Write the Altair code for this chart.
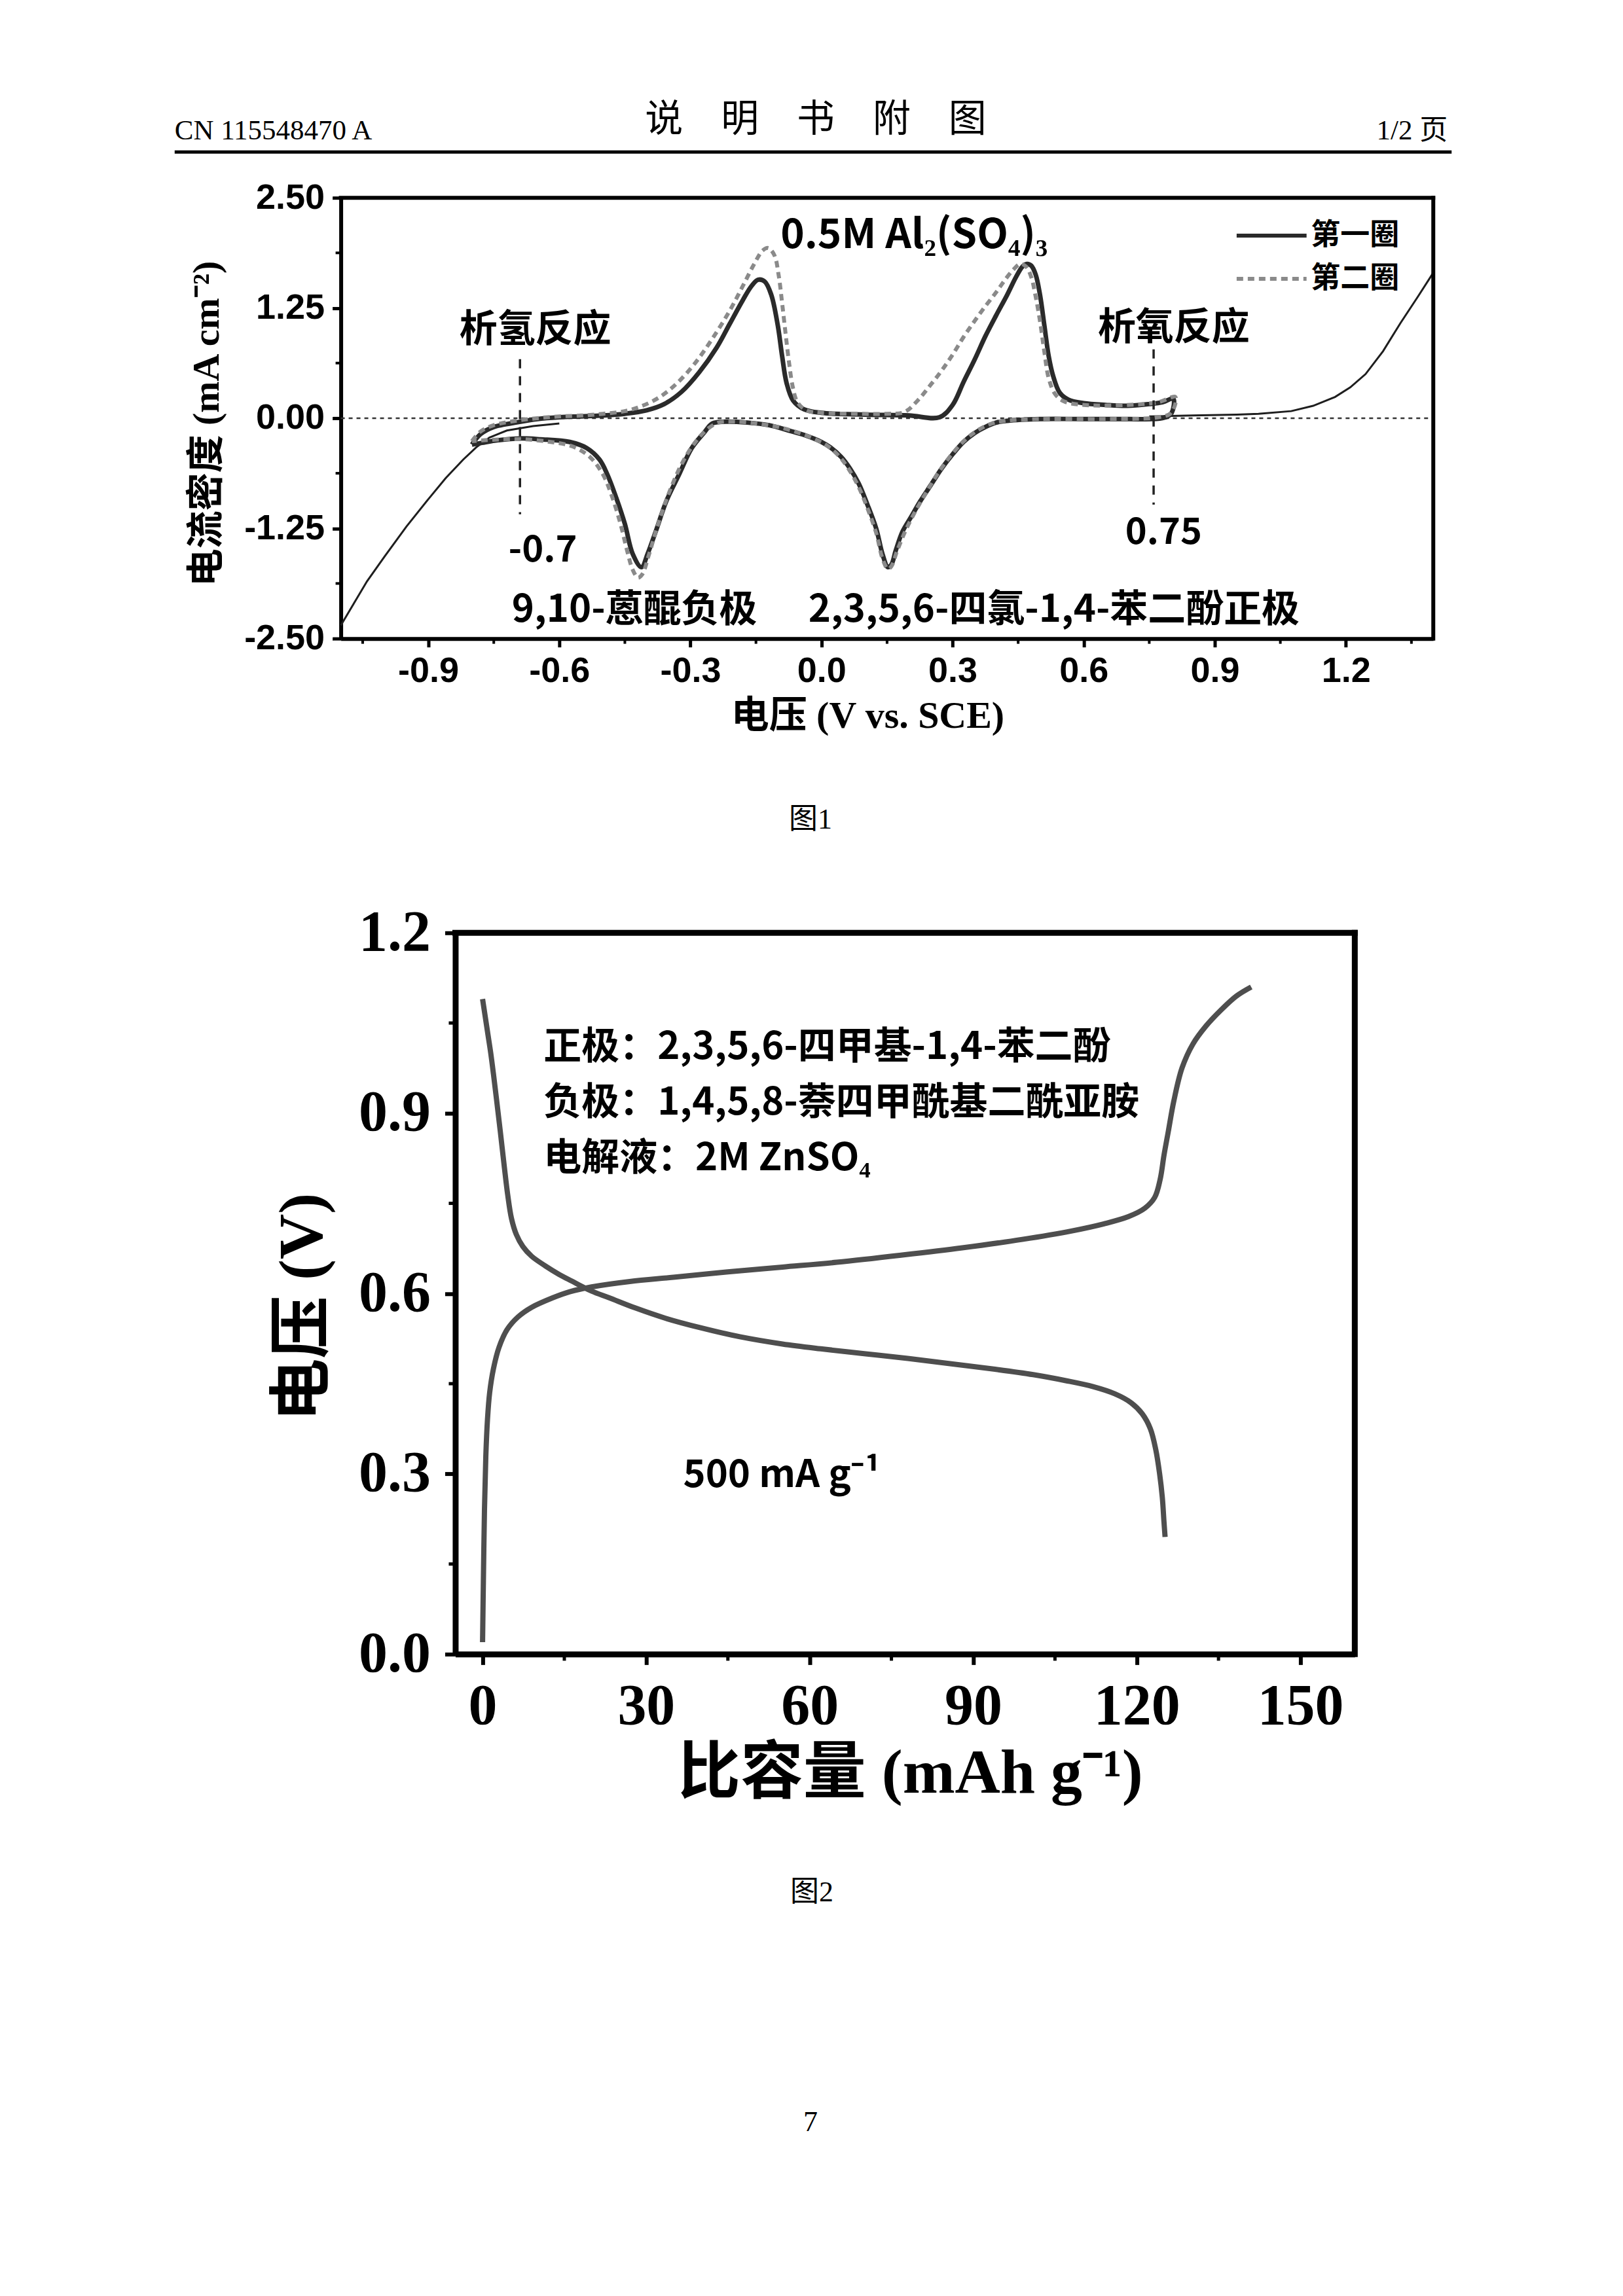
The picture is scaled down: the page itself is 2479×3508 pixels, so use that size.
import altair as alt
import pandas as pd

# ------------------------------------------------------------------ data
# Figure 1: cyclic voltammograms, potential (V vs. SCE) / current density (mA cm-2)
cv1_x = [-0.80, -0.78, -0.75, -0.70, -0.65, -0.60, -0.55, -0.50, -0.45, -0.40,
         -0.36, -0.32, -0.28, -0.24, -0.21, -0.18, -0.16, -0.145, -0.13, -0.115,
         -0.10, -0.09, -0.08, -0.065, -0.04, 0.00, 0.10, 0.20, 0.27, 0.30,
         0.325, 0.35, 0.375, 0.40, 0.425, 0.445, 0.46, 0.47, 0.48, 0.49,
         0.50, 0.51, 0.52, 0.53, 0.545, 0.565, 0.60, 0.65, 0.70, 0.75,
         0.78, 0.805,
         0.80, 0.78, 0.70, 0.60, 0.50, 0.425, 0.40, 0.375, 0.35, 0.325,
         0.30, 0.275, 0.25, 0.225, 0.205, 0.185, 0.17, 0.16, 0.152, 0.14,
         0.125, 0.105, 0.085, 0.065, 0.045, 0.02, 0.00, -0.04, -0.075, -0.12,
         -0.17, -0.22, -0.25, -0.268, -0.297, -0.326, -0.355, -0.379, -0.398, -0.412,
         -0.432, -0.45, -0.47, -0.49, -0.508, -0.537, -0.576, -0.643, -0.69, -0.74,
         -0.777, -0.80]
cv1_y = [-0.30, -0.18, -0.10, -0.05, -0.01, 0.01, 0.02, 0.03, 0.05, 0.09,
         0.16, 0.30, 0.52, 0.80, 1.07, 1.34, 1.50, 1.57, 1.55, 1.40,
         1.05, 0.70, 0.40, 0.20, 0.10, 0.06, 0.04, 0.03, 0.01, 0.15,
         0.41, 0.66, 0.93, 1.17, 1.40, 1.60, 1.72, 1.75, 1.73, 1.63,
         1.40, 1.05, 0.70, 0.48, 0.29, 0.21, 0.17, 0.15, 0.14, 0.16,
         0.18, 0.22,
         0.05, 0.00, -0.01, -0.01, -0.01, -0.03, -0.05, -0.10, -0.17, -0.27,
         -0.41, -0.57, -0.76, -0.95, -1.12, -1.29, -1.50, -1.66, -1.69, -1.55,
         -1.25, -0.98, -0.74, -0.57, -0.44, -0.33, -0.27, -0.19, -0.14, -0.08,
         -0.05, -0.04, -0.06, -0.16, -0.34, -0.64, -0.94, -1.28, -1.54, -1.69,
         -1.54, -1.20, -0.90, -0.64, -0.47, -0.34, -0.27, -0.24, -0.23, -0.25,
         -0.28, -0.30]

cv2_x = [-0.80, -0.78, -0.75, -0.70, -0.65, -0.60, -0.55, -0.50, -0.45, -0.41,
         -0.37, -0.33, -0.29, -0.25, -0.21, -0.18, -0.155, -0.135, -0.122, -0.108,
         -0.098, -0.09, -0.082, -0.074, -0.066, -0.055, -0.035, 0.00, 0.08, 0.15,
         0.19, 0.22, 0.25, 0.275, 0.30, 0.325, 0.35, 0.375, 0.40, 0.42,
         0.44, 0.455, 0.468, 0.48, 0.49, 0.50, 0.51, 0.52, 0.535, 0.555,
         0.60, 0.70, 0.77, 0.81,
         0.80, 0.77, 0.65, 0.50, 0.42, 0.39, 0.36, 0.33, 0.30, 0.27,
         0.24, 0.21, 0.19, 0.172, 0.16, 0.152, 0.14, 0.125, 0.105, 0.085,
         0.06, 0.04, 0.015, -0.01, -0.05, -0.10, -0.15, -0.20, -0.235, -0.26,
         -0.29, -0.32, -0.35, -0.375, -0.395, -0.41, -0.42, -0.432, -0.445, -0.46,
         -0.48, -0.50, -0.53, -0.57, -0.62, -0.68, -0.73, -0.77, -0.80]
cv2_y = [-0.26, -0.15, -0.08, -0.03, 0.00, 0.02, 0.03, 0.05, 0.08, 0.14,
         0.24, 0.40, 0.62, 0.90, 1.22, 1.50, 1.74, 1.90, 1.93, 1.85,
         1.62, 1.30, 0.95, 0.62, 0.36, 0.18, 0.09, 0.06, 0.05, 0.05,
         0.07, 0.20, 0.38, 0.54, 0.72, 0.92, 1.10, 1.27, 1.43, 1.57,
         1.69, 1.75, 1.72, 1.60, 1.38, 1.10, 0.75, 0.45, 0.27, 0.19,
         0.15, 0.15, 0.18, 0.24,
         0.06, 0.01, -0.01, -0.01, -0.03, -0.06, -0.13, -0.24, -0.40, -0.60,
         -0.84, -1.10, -1.30, -1.52, -1.68, -1.71, -1.60, -1.30, -1.02, -0.78,
         -0.56, -0.43, -0.32, -0.25, -0.17, -0.10, -0.06, -0.04, -0.05, -0.12,
         -0.28, -0.52, -0.86, -1.22, -1.55, -1.77, -1.81, -1.72, -1.50, -1.20,
         -0.88, -0.64, -0.44, -0.32, -0.27, -0.24, -0.24, -0.25, -0.26]

blank_left_x = [-1.10, -1.07, -1.04, -1.00, -0.95, -0.90, -0.86, -0.82, -0.79, -0.76, -0.72, -0.66, -0.60]
blank_left_y = [-2.35, -2.10, -1.85, -1.57, -1.23, -0.92, -0.68, -0.47, -0.33, -0.22, -0.14, -0.09, -0.06]
blank_right_x = [0.75, 0.85, 0.95, 1.00, 1.075, 1.125, 1.175, 1.21, 1.245, 1.285, 1.325, 1.365, 1.40]
blank_right_y = [0.02, 0.03, 0.04, 0.05, 0.08, 0.14, 0.24, 0.35, 0.50, 0.76, 1.08, 1.38, 1.65]

x1_ticks = [-0.9, -0.6, -0.3, 0.0, 0.3, 0.6, 0.9, 1.2]
x1_minor = [-1.05, -0.75, -0.45, -0.15, 0.15, 0.45, 0.75, 1.05, 1.35]
y1_ticks = [-2.5, -1.25, 0.0, 1.25, 2.5]
y1_minor = [-1.875, -0.625, 0.625, 1.875]

legend_labels = ["第一圈", "第二圈"]

# Figure 2: galvanostatic charge / discharge, capacity (mAh g-1) / voltage (V)
charge_x = [0.0, 0.15, 0.35, 0.6, 0.9, 1.3, 2.0, 3.0, 4.5, 6.5, 9.0, 12.9, 16.0, 20.0,
            27.0, 35.0, 45.0, 55.0, 65.0, 77.0, 88.0, 99.0, 108.0, 114.0, 118.5,
            121.5, 123.3, 124.3, 125.0, 125.8, 126.8, 128.3, 130.3, 132.7, 135.5,
            138.3, 141.0]
charge_y = [0.02, 0.12, 0.24, 0.33, 0.39, 0.435, 0.475, 0.51, 0.54, 0.561, 0.577, 0.593,
            0.603, 0.611, 0.620, 0.627, 0.636, 0.644, 0.652, 0.664, 0.676, 0.690,
            0.704, 0.716, 0.728, 0.742, 0.760, 0.790, 0.830, 0.870, 0.920, 0.975,
            1.015, 1.045, 1.072, 1.095, 1.110]
dis_x = [0.0, 0.5, 1.0, 1.5, 2.0, 2.6, 3.25, 4.0, 4.6, 5.3, 6.2, 7.4, 9.0, 11.5, 14.0,
         16.3, 20.0, 23.2, 28.0, 33.5, 40.0, 47.2, 55.0, 62.0, 70.0, 78.0, 86.0, 94.0,
         101.0, 107.0, 112.0, 116.0, 119.0, 121.0, 122.5, 123.5, 124.2, 124.7, 125.0,
         125.2]
dis_y = [1.09, 1.06, 1.03, 1.00, 0.965, 0.92, 0.87, 0.81, 0.765, 0.725, 0.698, 0.678,
         0.662, 0.646, 0.632, 0.621, 0.604, 0.593, 0.576, 0.559, 0.543, 0.528, 0.516,
         0.508, 0.500, 0.492, 0.483, 0.474, 0.465, 0.455, 0.445, 0.433, 0.418, 0.400,
         0.375, 0.340, 0.300, 0.260, 0.220, 0.195]

x2_ticks = [0, 30, 60, 90, 120, 150]
x2_minor = [15, 45, 75, 105, 135]
y2_ticks = [0.0, 0.3, 0.6, 0.9, 1.2]
y2_minor = [0.15, 0.45, 0.75, 1.05]

# ------------------------------------------------------------------ styling
CJK = "'Noto Sans CJK SC'"
SERIF = "'Liberation Serif', 'Noto Sans CJK SC'"
SANS = "'Liberation Sans', 'Noto Sans CJK SC'"
PAGE_W = 2463
MINUS_FIX = "replace(format(datum.value, '{}'), '\u2212', '-')"

dummy = pd.DataFrame({"a": [0]})


def page_text(text, x, y, size, font, align="center", weight="normal"):
    return alt.Chart(pd.DataFrame({"t": [text]})).mark_text(
        font=font, fontSize=size, fontWeight=weight, align=align,
        baseline="middle", color="black"
    ).encode(x=alt.value(x), y=alt.value(y), text="t:N")


# ------------------------------------------------------------------ header cell
pin = alt.Chart(dummy).mark_rule(color="white", strokeWidth=1).encode(
    x=alt.value(0), x2=alt.value(PAGE_W), y=alt.value(0.5))
head_line = alt.Chart(dummy).mark_rule(color="black", strokeWidth=5).encode(
    x=alt.value(258), x2=alt.value(2210), y=alt.value(222))
header = alt.layer(
    pin, head_line,
    page_text("CN 115548470 A", 258, 190, 43, SERIF, align="left"),
    page_text("说\u3000明\u3000书\u3000附\u3000图", 1238, 174, 58, CJK),
    page_text("1/2 页", 2204, 190, 43, SERIF, align="right"),
).properties(width=PAGE_W, height=292)

# ------------------------------------------------------------------ figure 1
W1, H1, L1 = 2182, 674, 512
sx1 = alt.Scale(domain=[-1.1, 1.4], range=[L1, W1], nice=False, zero=False)
sy1 = alt.Scale(domain=[-2.5, 2.5], nice=False, zero=False)
ax1 = alt.Axis(values=x1_ticks, labelExpr=MINUS_FIX.format(".1f"), grid=False,
               labelFont=SANS, labelFontSize=54, labelFontWeight="bold", labelColor="black",
               labelPadding=10, labelFlush=False, labelOverlap=False,
               tickSize=13, tickWidth=5, tickColor="black",
               domainColor="black", domainWidth=6,
               title="电压 (V vs. SCE)", titleFont=SERIF, titleFontSize=58,
               titleFontWeight="bold", titleColor="black", titleX=1317, titleY=119,
               titleAlign="center", titleBaseline="middle")
ay1 = alt.Axis(values=y1_ticks, labelExpr=MINUS_FIX.format(".2f"), grid=False, offset=-L1,
               labelFont=SANS, labelFontSize=54, labelFontWeight="bold", labelColor="black",
               labelPadding=12, labelFlush=False, labelOverlap=False,
               tickSize=13, tickWidth=5, tickColor="black",
               domainColor="black", domainWidth=6,
               title="电流密度 (mA cm⁻²)", titleFont=SERIF, titleFontSize=58,
               titleFontWeight="bold", titleColor="black", titleAngle=-90,
               titleX=-204, titleY=345, titleAlign="center", titleBaseline="middle")


def X1(f="x"):
    return alt.X(f + ":Q", scale=sx1, axis=ax1)


def Y1(f="y"):
    return alt.Y(f + ":Q", scale=sy1, axis=ay1)


cv1 = pd.DataFrame({"x": cv1_x, "y": cv1_y, "i": range(len(cv1_x))})
cv2 = pd.DataFrame({"x": cv2_x, "y": cv2_y, "i": range(len(cv2_x))})
blank = pd.DataFrame({
    "x": blank_left_x + blank_right_x, "y": blank_left_y + blank_right_y,
    "seg": ["L"] * len(blank_left_x) + ["R"] * len(blank_right_x),
    "i": list(range(len(blank_left_x))) + list(range(len(blank_right_x)))})

zero_line = alt.Chart(pd.DataFrame({"x": [-1.1], "x2": [1.4], "y": [0.0]})).mark_rule(
    color="#333333", strokeWidth=2.5, strokeDash=[6, 6]).encode(x=X1(), x2="x2:Q", y=Y1())
blank_line = alt.Chart(blank).mark_line(color="#1e1e1e", strokeWidth=3).encode(
    x=X1(), y=Y1(), detail="seg:N", order="i:Q")
cv1_line = alt.Chart(cv1).mark_line(color="#2a2a2a", strokeWidth=7, interpolate="catmull-rom").encode(
    x=X1(), y=Y1(), order="i:Q")
cv2_line = alt.Chart(cv2).mark_line(color="#8a8a8a", strokeWidth=6, strokeDash=[10, 7],
                                    interpolate="catmull-rom").encode(x=X1(), y=Y1(), order="i:Q")
marker_lines = alt.Chart(pd.DataFrame({"x": [-0.69, 0.76], "y": [0.67, 0.78], "y2": [-1.09, -0.98]})
                         ).mark_rule(color="#222222", strokeWidth=3.5, strokeDash=[14, 12]).encode(
    x=X1(), y=Y1(), y2="y2:Q")
frame1 = alt.Chart(pd.DataFrame({"x": [-1.1, 1.4], "x2": [1.4, 1.4],
                                 "y": [2.5, -2.5], "y2": [2.5, 2.5]})).mark_rule(
    color="black", strokeWidth=6, strokeCap="square").encode(x=X1(), x2="x2:Q", y=Y1(), y2="y2:Q")
minor_x1 = alt.Chart(pd.DataFrame({"x": x1_minor})).mark_rule(color="black", strokeWidth=4).encode(
    x=X1(), y=alt.value(H1), y2=alt.value(H1 + 8))
minor_y1 = alt.Chart(pd.DataFrame({"y": y1_minor})).mark_rule(color="black", strokeWidth=4).encode(
    y=Y1(), x=alt.value(L1 - 8), x2=alt.value(L1))

notes1 = pd.DataFrame({
    "t": ["析氢反应", "析氧反应", "9,10-蒽醌负极", "2,3,5,6-四氯-1,4-苯二酚正极"],
    "x": [-0.655, 0.806, -0.428, 0.532],
    "y": [0.994, 1.016, -2.18, -2.18]})
notes1_txt = alt.Chart(notes1).mark_text(font=CJK, fontSize=58, fontWeight="bold",
                                         baseline="middle", align="center", color="black").encode(
    x=X1(), y=Y1(), text="t:N")
salt_txt = alt.Chart(pd.DataFrame({"t": ["0.5M Al₂(SO₄)₃"], "x": [0.212], "y": [2.07]})).mark_text(
    font=CJK, fontSize=62, fontWeight="bold", baseline="middle", align="center", color="black").encode(
    x=X1(), y=Y1(), text="t:N")
nums1 = pd.DataFrame({"t": ["-0.7", "0.75"], "x": [-0.638, 0.783], "y": [-1.50, -1.30]})
nums1_txt = alt.Chart(nums1).mark_text(font=CJK, fontSize=56, fontWeight="bold",
                                       baseline="middle", align="center", color="black").encode(
    x=X1(), y=Y1(), text="t:N")

leg_solid = alt.Chart(pd.DataFrame({"x": [0.95], "x2": [1.11], "y": [2.07]})).mark_rule(
    color="#2a2a2a", strokeWidth=6).encode(x=X1(), x2="x2:Q", y=Y1())
leg_dash = alt.Chart(pd.DataFrame({"x": [0.95], "x2": [1.11], "y": [1.58]})).mark_rule(
    color="#8a8a8a", strokeWidth=6, strokeDash=[10, 7]).encode(x=X1(), x2="x2:Q", y=Y1())
leg_txt = alt.Chart(pd.DataFrame({"t": legend_labels, "x": [1.12, 1.12], "y": [2.07, 1.58]})
                    ).mark_text(font=CJK, fontSize=45, fontWeight="bold", align="left",
                                baseline="middle", color="black").encode(x=X1(), y=Y1(), text="t:N")

fig1 = alt.layer(zero_line, blank_line, cv1_line, cv2_line, marker_lines, frame1,
                 minor_x1, minor_y1, notes1_txt, salt_txt, nums1_txt, leg_solid, leg_dash, leg_txt
                 ).properties(width=W1, height=H1)

cap1 = alt.layer(page_text("图1", 1230, 278, 44, SERIF)).properties(width=PAGE_W, height=450)

# ------------------------------------------------------------------ figure 2
W2, H2, L2 = 2062, 1103, 687
sx2 = alt.Scale(domain=[-5, 160], range=[L2, W2], nice=False, zero=False)
sy2 = alt.Scale(domain=[0, 1.2], nice=False, zero=False)
ax2 = alt.Axis(values=x2_ticks, format="d", grid=False,
               labelFont=SERIF, labelFontSize=88, labelFontWeight="bold", labelColor="black",
               labelPadding=20, labelFlush=False, labelOverlap=False,
               tickSize=16, tickWidth=6, tickColor="black",
               domainColor="black", domainWidth=9,
               title="比容量 (mAh g⁻¹)", titleFont=SERIF, titleFontSize=96,
               titleFontWeight="bold", titleColor="black", titleX=1382, titleY=182,
               titleAlign="center", titleBaseline="middle")
ay2 = alt.Axis(values=y2_ticks, format=".1f", grid=False, offset=-L2,
               labelFont=SERIF, labelFontSize=88, labelFontWeight="bold", labelColor="black",
               labelPadding=22, labelFlush=False, labelOverlap=False,
               tickSize=16, tickWidth=6, tickColor="black",
               domainColor="black", domainWidth=9,
               title="电压 (V)", titleFont=SERIF, titleFontSize=96,
               titleFontWeight="bold", titleColor="black", titleAngle=-90,
               titleX=-233, titleY=572, titleAlign="center", titleBaseline="middle")


def X2(f="x"):
    return alt.X(f + ":Q", scale=sx2, axis=ax2)


def Y2(f="y"):
    return alt.Y(f + ":Q", scale=sy2, axis=ay2)


gcd = pd.DataFrame({
    "x": charge_x + dis_x, "y": charge_y + dis_y,
    "s": ["charge"] * len(charge_x) + ["discharge"] * len(dis_x),
    "i": list(range(len(charge_x))) + list(range(len(dis_x)))})
gcd_line = alt.Chart(gcd).mark_line(color="#4e4e4e", strokeWidth=8, interpolate="catmull-rom").encode(
    x=X2(), y=Y2(), detail="s:N", order="i:Q")
frame2 = alt.Chart(pd.DataFrame({"x": [-5, 160], "x2": [160, 160],
                                 "y": [1.2, 0.0], "y2": [1.2, 1.2]})).mark_rule(
    color="black", strokeWidth=9, strokeCap="square").encode(x=X2(), x2="x2:Q", y=Y2(), y2="y2:Q")
minor_x2 = alt.Chart(pd.DataFrame({"x": x2_minor})).mark_rule(color="black", strokeWidth=5).encode(
    x=X2(), y=alt.value(H2), y2=alt.value(H2 + 10))
minor_y2 = alt.Chart(pd.DataFrame({"y": y2_minor})).mark_rule(color="black", strokeWidth=5).encode(
    y=Y2(), x=alt.value(L2 - 10), x2=alt.value(L2))
notes2 = pd.DataFrame({
    "t": ["正极：2,3,5,6-四甲基-1,4-苯二酚", "负极：1,4,5,8-萘四甲酰基二酰亚胺", "电解液：2M ZnSO₄"],
    "x": [11.2, 11.2, 11.2], "y": [1.009, 0.916, 0.823]})
notes2_txt = alt.Chart(notes2).mark_text(font=CJK, fontSize=58, fontWeight="bold", align="left",
                                         baseline="middle", color="black").encode(
    x=X2(), y=Y2(), text="t:N")
rate_txt = alt.Chart(pd.DataFrame({"t": ["500 mA g⁻¹"], "x": [36.8], "y": [0.297]})).mark_text(
    font=CJK, fontSize=58, fontWeight="bold", align="left", baseline="middle", color="black").encode(
    x=X2(), y=Y2(), text="t:N")

fig2 = alt.layer(gcd_line, frame2, minor_x2, minor_y2, notes2_txt, rate_txt
                 ).properties(width=W2, height=H2)

cap2 = alt.layer(
    page_text("图2", 1232, 365, 44, SERIF),
    page_text("7", 1230, 716, 44, SERIF),
).properties(width=PAGE_W, height=965)

chart = alt.vconcat(header, fig1, cap1, fig2, cap2, spacing=0, bounds="flush").properties(
    padding=0).configure_view(stroke="transparent")

chart.save("out.html", embed_options={"renderer": "svg", "actions": False})
